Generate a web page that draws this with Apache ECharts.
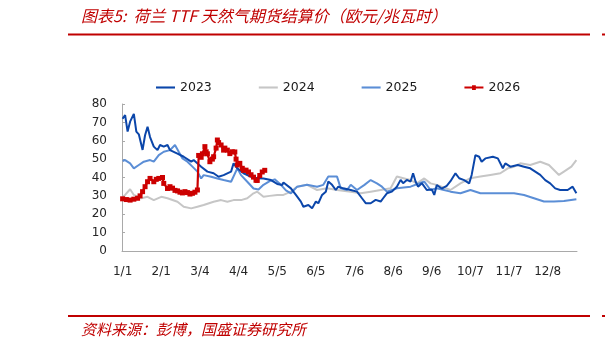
<!DOCTYPE html>
<html><head><meta charset="utf-8">
<script src="https://cdn.jsdelivr.net/npm/echarts@6/dist/echarts.min.js"></script>
<style>html,body{margin:0;padding:0;background:#fff}#c{width:605px;height:346px}</style>
</head><body><div id="c"></div>
<script>
// ---- text ----
const titleText = '图表5:  荷兰 TTF 天然气期货结算价（欧元/兆瓦时）';
const sourceText = '资料来源：彭博，国盛证券研究所';
const seriesNames = ['2023', '2024', '2025', '2026'];

// ---- axes ----
const yMin = 0, yMax = 80, yStep = 10;
const year = 2023;           // calendar used for the day-of-year category axis
const dayCount = 365;
const labelEvery = 31;       // labels: 1/1, 2/1, 3/4, ... 12/8
const tickEvery = 20;

// ---- series (day-of-year index, value in EUR/MWh) ----
const d2023 = [0,2,4,6,9,11,13,16,18,20,22,25,28,30,33,36,38,44,49,55,57,63,68,73,77,81,87,89,92,97,103,108,113,119,124,128,129,135,139,143,145,149,152,155,157,160,163,165,168,171,173,177,183,188,192,195,199,203,207,209,212,216,220,223,225,228,231,233,235,237,240,244,248,250,252,256,260,263,267,270,274,278,280,283,286,288,291,297,301,305,307,311,317,322,327,331,335,339,343,347,351,357,361,364];
const v2023 = [72,74,65,70.4,74.6,65,63.5,55,63,67.6,62,56.8,54.9,57.7,56.8,57.7,54.9,53,51.3,48.6,49.5,45.9,43.2,42.3,40.4,41.3,43.2,47.7,45,42.3,40.4,39.6,39.5,38.6,36.5,35.9,37.3,34.1,30.5,26.9,24.1,25,23.2,26.9,26,30.5,32.3,37.8,36,33.2,35,34.1,33.2,32.3,28.7,26,26,27.8,26.9,28.7,31.4,32.3,35,38.7,36.9,38.7,37.8,42.3,37.8,35,36.9,33.2,33.5,30.5,35.9,34,35.5,38,42.3,39.6,38.6,36.8,41.4,52.2,51.3,48.6,50.4,51.3,50.4,45,47.7,45.9,46.8,45.9,45,43.2,41.4,38.6,36.8,34.1,33.2,33.2,35,31.4];

const d2024 = [0,2,6,9,15,20,25,31,36,44,49,55,60,65,73,79,84,89,95,100,105,108,113,118,124,129,135,140,148,156,164,172,183,191,199,207,215,220,226,231,236,242,247,252,258,263,271,279,287,295,303,309,314,319,327,335,342,346,350,354,360,364];
const v2024 = [29.5,30.5,33.6,30.5,28.7,29.5,27.7,29.5,28.7,26.8,24.1,23.2,24.1,25,26.8,27.7,26.8,27.7,27.7,28.7,31.4,32.3,29.5,30,30.5,30.5,32.3,35,36,33.2,34.1,33.2,32.3,31.4,32.3,33.2,34.1,40.5,39.5,38.6,36.8,39.5,36.8,36,34.5,33.2,36.8,39.6,40.5,41.4,42.3,45,45.9,47.7,46.8,48.6,46.8,44.1,41.4,43.2,45.9,49.5];

const d2025 = [0,2,6,9,13,17,22,25,29,33,38,42,45,48,52,56,60,63,65,71,76,81,87,92,95,100,105,109,113,118,122,127,131,135,140,148,156,161,165,172,175,180,183,188,194,199,204,208,212,220,231,242,247,252,263,271,279,287,300,314,322,330,338,346,354,364];
const v2025 = [49,49.5,47.7,45,46.8,48.6,49.5,48.6,52.2,54,54.9,57.7,54,50.4,48.6,45.9,43.2,39.5,41.3,40.4,39.5,38.6,37.7,45,41.3,37.7,34,33.5,36,38,39,36,33,31.4,35,36,35,36,40.5,40.5,34.1,33.2,36,33.2,36,38.6,36.8,35,32.3,34.1,35,37.8,33.2,34.1,32.3,31.4,33.2,31.4,31.4,31.4,30.5,28.7,26.9,26.9,27.2,28.1];

const d2026 = [0,3,6,9,12,14,16,18,20,22,25,27,29,32,33,36,38,40,42,44,46,48,50,52,54,56,58,60,61,63,64,66,67,68,70,72,73,75,76,77,79,81,82,84,86,88,90,91,92,94,96,97,99,101,103,105,107,108,110,112,114];
const v2026 = [28.4,28,27.7,28.2,28.7,30,32.3,35,37.7,39.5,37.7,39,39.5,40,36.8,34,35,34.2,33,32.7,32,31.6,32.3,31.8,31,31.4,32,33.2,52,51,52.9,56.8,54,52.9,48.6,50,51.3,56,60.4,59,57.7,54.9,56,54.9,53,54,53.9,50,46.8,47.7,45,43.9,44,43,41.5,40.2,38.5,38.4,41.1,43,43.9];

// ---- build ----
const categories = [];
for (let i = 0; i < dayCount; i++) {
  const dt = new Date(year, 0, 1 + i);
  categories.push((dt.getMonth() + 1) + '/' + dt.getDate());
}
const pairs = (d, v) => d.map((x, i) => [x, v[i]]);

const FONT = 'DejaVu Sans';
const axisGray = '#A9A9A9';
const red = '#C00000';
const colors = { '2023': '#0B46AA', '2024': '#C6C6C6', '2025': '#5B8ED6', '2026': '#CC0000' };
const lineIcon = 'path://M0,0H20V2.2H0Z';
const markIcon = 'path://M0,1.5H8V0H12V1.5H20V3.5H12V5H8V3.5H0Z';

const chart = echarts.init(document.getElementById('c'), null, { renderer: 'canvas' });
chart.setOption({
  animation: false,
  backgroundColor: '#ffffff',
  grid: { left: 122, right: 28, top: 104, bottom: 95, containLabel: false },
  legend: {
    data: seriesNames.map(n => ({ name: n, icon: n === '2026' ? markIcon : lineIcon,
      itemStyle: { color: colors[n], borderWidth: 0 } })),
    left: 151, top: 76,
    itemWidth: 19, itemHeight: 12, itemGap: 47,
    symbolKeepAspect: true,
    textStyle: { fontFamily: FONT, fontSize: 12.5, color: '#1a1a1a' }
  },
  xAxis: {
    type: 'category',
    data: categories,
    boundaryGap: true,
    axisLine: { lineStyle: { color: axisGray, width: 1 } },
    axisTick: { inside: true, length: 3, interval: tickEvery - 1, lineStyle: { color: axisGray } },
    axisLabel: { interval: labelEvery - 1, margin: 15, fontFamily: FONT, fontSize: 12, color: '#262626' },
    splitLine: { show: false }
  },
  yAxis: {
    type: 'value', min: yMin, max: yMax, interval: yStep,
    axisLine: { show: true, lineStyle: { color: axisGray, width: 1 } },
    axisTick: { show: true, inside: true, length: 3, lineStyle: { color: axisGray } },
    axisLabel: { margin: 15, fontFamily: FONT, fontSize: 12, color: '#262626' },
    splitLine: { show: false }
  },
  series: [
    { name: '2023', type: 'line', data: pairs(d2023, v2023), symbol: 'none', z: 4,
      lineStyle: { color: colors['2023'], width: 2 }, itemStyle: { color: colors['2023'] } },
    { name: '2024', type: 'line', data: pairs(d2024, v2024), symbol: 'none', z: 2,
      lineStyle: { color: colors['2024'], width: 2 }, itemStyle: { color: colors['2024'] } },
    { name: '2025', type: 'line', data: pairs(d2025, v2025), symbol: 'none', z: 3,
      lineStyle: { color: colors['2025'], width: 2 }, itemStyle: { color: colors['2025'] } },
    { name: '2026', type: 'line', data: pairs(d2026, v2026), symbol: 'rect', symbolSize: 5,
      showSymbol: true, showAllSymbol: true, z: 5,
      lineStyle: { color: colors['2026'], width: 2.2 }, itemStyle: { color: colors['2026'] } }
  ],
  graphic: [
    { type: 'text', left: 81, top: 8, style: { text: titleText, font: 'italic 16px "Noto Sans CJK SC"', fill: red } },
    { type: 'line', shape: { x1: 68, y1: 34.5, x2: 590, y2: 34.5 }, style: { stroke: red, lineWidth: 2 } },
    { type: 'line', shape: { x1: 602, y1: 34.5, x2: 605, y2: 34.5 }, style: { stroke: red, lineWidth: 2 } },
    { type: 'line', shape: { x1: 68, y1: 316, x2: 590, y2: 316 }, style: { stroke: red, lineWidth: 2 } },
    { type: 'line', shape: { x1: 602, y1: 316, x2: 605, y2: 316 }, style: { stroke: red, lineWidth: 2 } },
    { type: 'text', left: 81, top: 322, style: { text: sourceText, font: 'italic 15px "Noto Sans CJK SC"', fill: red } }
  ]
});
</script>
</body></html>
